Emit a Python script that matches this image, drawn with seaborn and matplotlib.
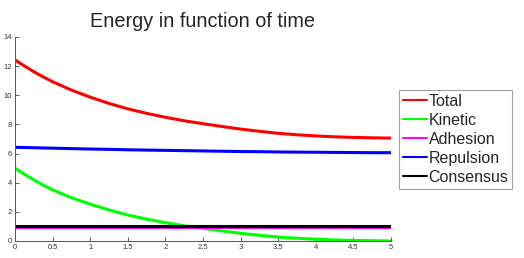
import matplotlib
matplotlib.use('Agg')

import matplotlib.pyplot as plt
import seaborn as sns

# ---------------- DATA ----------------
time = [0, 0.125, 0.25, 0.375, 0.5, 0.75, 1, 1.25, 1.5, 1.75, 2, 2.25, 2.5,
        2.75, 3, 3.25, 3.5, 3.75, 4, 4.25, 4.5, 4.75, 5]

total = [12.43, 12.01, 11.62, 11.26, 10.93, 10.36, 9.87, 9.44, 9.07, 8.76, 8.49, 8.25, 8.05,
         7.86, 7.68, 7.53, 7.39, 7.29, 7.21, 7.15, 7.11, 7.08, 7.06]
kinetic = [5.0, 4.58, 4.2, 3.84, 3.51, 2.97, 2.53, 2.13, 1.78, 1.50, 1.26, 1.04, 0.87,
           0.69, 0.53, 0.39, 0.27, 0.19, 0.12, 0.07, 0.04, 0.02, 0.0]
adhesion = [0.94, 0.94, 0.94, 0.94, 0.94, 0.94, 0.94, 0.94, 0.94, 0.94, 0.94, 0.94, 0.94,
            0.94, 0.94, 0.94, 0.94, 0.94, 0.94, 0.94, 0.94, 0.94, 0.94]
repulsion = [6.43, 6.415, 6.40, 6.385, 6.37, 6.34, 6.31, 6.29, 6.26, 6.24, 6.22, 6.20, 6.18,
             6.16, 6.14, 6.13, 6.11, 6.10, 6.09, 6.08, 6.07, 6.06, 6.06]
consensus = [1.0, 1.0, 1.0, 1.0, 1.0, 1.0, 1.0, 1.0, 1.0, 1.0, 1.0, 1.0, 1.0,
             1.0, 1.0, 1.0, 1.0, 1.0, 1.0, 1.0, 1.0, 1.0, 1.0]

series_names = ["Total", "Kinetic", "Adhesion", "Repulsion", "Consensus"]
series_colors = ["#ff0000", "#00ff00", "#ff00ff", "#0000ff", "#000000"]

x_ticks = [0, 0.5, 1, 1.5, 2, 2.5, 3, 3.5, 4, 4.5, 5]
x_tick_labels = ["0", "0.5", "1", "1.5", "2", "2.5", "3", "3.5", "4", "4.5", "5"]
y_ticks = [0, 2, 4, 6, 8, 10, 12, 14]
y_tick_labels = ["0", "2", "4", "6", "8", "10", "12", "14"]
# --------------------------------------

sns.set_style("ticks")
plt.rcParams['font.family'] = ['Liberation Sans', 'DejaVu Sans']

fig = plt.figure(figsize=(5.24, 2.58), dpi=100)
ax = fig.add_axes([0.0286, 0.0659, 0.7176, 0.7907])

all_series = [total, kinetic, adhesion, repulsion, consensus]
for name, vals, col in zip(series_names, all_series, series_colors):
    sns.lineplot(x=time, y=vals, ax=ax, color=col, linewidth=2.2, label=name)

ax.set_xlim(0, 5)
ax.set_ylim(0, 14)
ax.set_xticks(x_ticks)
ax.set_xticklabels(x_tick_labels)
ax.set_yticks(y_ticks)
ax.set_yticklabels(y_tick_labels)
ax.tick_params(direction='in', length=3, width=0.6, labelsize=5.5,
               colors='#444444', labelcolor='#333333', pad=2)
for side in ['top', 'right']:
    ax.spines[side].set_visible(False)
for side in ['left', 'bottom']:
    ax.spines[side].set_color('#555555')
    ax.spines[side].set_linewidth(0.7)

ax.set_title("Energy in function of time", fontsize=14.3, pad=7)

leg = ax.legend(loc='upper left', bbox_to_anchor=(399 / 524, 1 - 90 / 258),
                bbox_transform=fig.transFigure, borderaxespad=0,
                fontsize=11.5, frameon=True, fancybox=False,
                handlelength=1.5, handletextpad=0.1, labelspacing=0.25,
                borderpad=0.25)
leg.get_frame().set_edgecolor('#888888')
leg.get_frame().set_linewidth(0.8)
for line in leg.get_lines():
    line.set_linewidth(1.5)

plt.savefig("out.png", dpi=100)
plt.close()
